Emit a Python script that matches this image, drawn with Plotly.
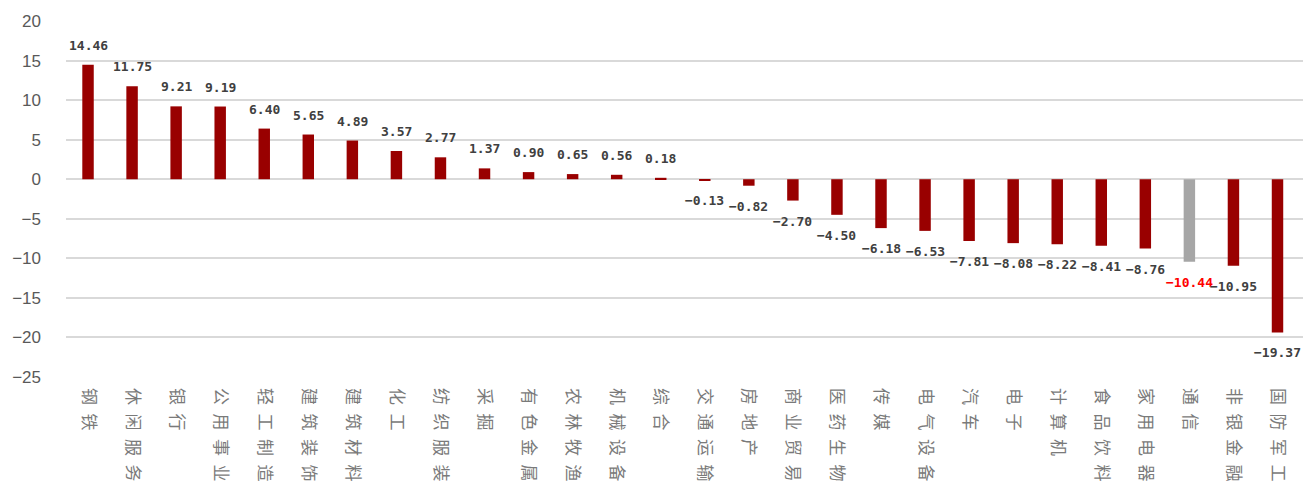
import plotly.graph_objects as go

# 行业涨跌幅（%）
industries = ["钢铁", "休闲服务", "银行", "公用事业", "轻工制造", "建筑装饰", "建筑材料",
              "化工", "纺织服装", "采掘", "有色金属", "农林牧渔", "机械设备", "综合",
              "交通运输", "房地产", "商业贸易", "医药生物", "传媒", "电气设备", "汽车",
              "电子", "计算机", "食品饮料", "家用电器", "通信", "非银金融", "国防军工"]
returns = [14.46, 11.75, 9.21, 9.19, 6.40, 5.65, 4.89,
           3.57, 2.77, 1.37, 0.90, 0.65, 0.56, 0.18,
           -0.13, -0.82, -2.70, -4.50, -6.18, -6.53, -7.81,
           -8.08, -8.22, -8.41, -8.76, -10.44, -10.95, -19.37]
highlight = "通信"
y_ticks = [-25, -20, -15, -10, -5, 0, 5, 10, 15, 20]

BAR_RED = "#990000"
BAR_GRAY = "#A6A6A6"

bar_colors = [BAR_GRAY if name == highlight else BAR_RED for name in industries]
tick_text = ["\u2002".join(name) for name in industries]

fig = go.Figure(
    go.Bar(
        x=industries,
        y=returns,
        marker=dict(color=bar_colors, line=dict(width=0)),
        hoverinfo="x+y",
    )
)

# 数值标签：正值在柱顶上方，负值在柱底下方
annotations = []
for name, v in zip(industries, returns):
    label = f"{v:.2f}".replace("-", "\u2212")
    annotations.append(dict(
        x=name, y=v, xref="x", yref="y",
        text=label, showarrow=False,
        yanchor="bottom" if v >= 0 else "top",
        yshift=10 if v >= 0 else -11,
        font=dict(family="DejaVu Sans Mono", size=13,
                  color="#FF0000" if name == highlight else "#404040",
                  weight="bold"),
    ))

fig.update_layout(
    width=1316, height=494,
    margin=dict(l=65, r=13, t=18, b=113),
    paper_bgcolor="white", plot_bgcolor="white",
    bargap=0.74,
    showlegend=False,
    annotations=annotations,
    xaxis=dict(
        tickmode="array", tickvals=industries, ticktext=tick_text,
        tickangle=90,
        tickfont=dict(family="Noto Sans CJK SC", size=17, color="#7A7A7A"),
        showgrid=False, showline=False, ticks="", zeroline=False,
        ticklabelstandoff=10,
    ),
    yaxis=dict(
        range=[-25, 20], tickvals=y_ticks,
        tickfont=dict(family="Liberation Sans", size=17, color="#595959"),
        showgrid=True, gridcolor="#D9D9D9", gridwidth=2,
        zeroline=True, zerolinecolor="#D9D9D9", zerolinewidth=2,
        showline=False, ticks="",
        ticklabelstandoff=24,
    ),
)

fig.write_html("out.html")
